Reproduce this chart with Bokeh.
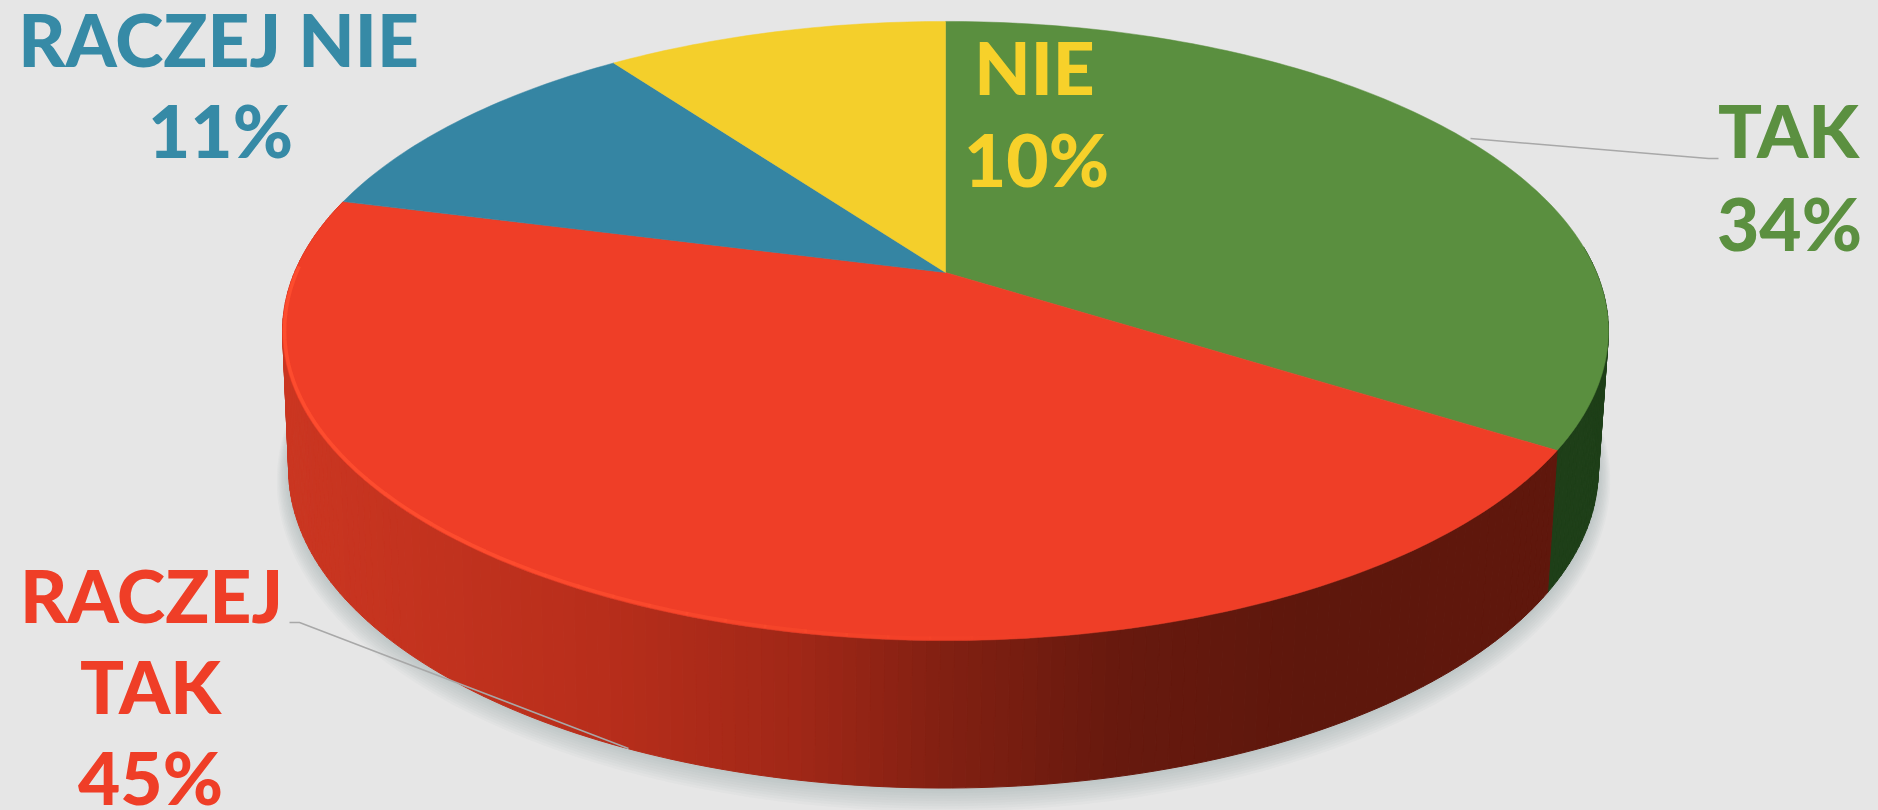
import math
from bokeh.plotting import figure
from bokeh.models import Range1d
from bokeh.core.properties import value
from bokeh.embed import file_html
from bokeh.resources import INLINE

# ---- data (clockwise from 12 o'clock) ----
categories = ["TAK", "RACZEJ TAK", "RACZEJ NIE", "NIE"]
shares = [34, 45, 11, 10]
label_lines = [["TAK"], ["RACZEJ", "TAK"], ["RACZEJ NIE"], ["NIE"]]

# ---- styles ----
BG = "#e6e6e6"
TOP_COL = ["#5a8f3f", "#ef3e27", "#3585a3", "#f4cf2b"]
TXT_COL = ["#5b9040", "#ef3e27", "#368aa6", "#f7d12a"]
GREEN_WALL = "#1e3f18"
# wall colour stops: page x -> colour
RED_STOPS = [(285, (0xcb, 0x36, 0x21)), (600, (0xb8, 0x2e, 0x1b)), (800, (0xa0, 0x27, 0x17)),
             (939, (0x82, 0x20, 0x12)), (1119, (0x67, 0x19, 0x0e)), (1300, (0x5e, 0x17, 0x0c)),
             (1560, (0x5f, 0x17, 0x0c))]

# perspective projection of the pie's circle onto the page
TILT = 0.189
def project(theta, cx, cy, bx, ay, grow=0.0):
    sx, sy = math.sin(theta), math.cos(theta)
    d = 1 + TILT * sy
    return cx + (bx + grow) * sx / d, cy - (ay + grow) * sy / d

def top_pt(t, grow=0.0):
    return project(t, 945, 272, 651, 298.5, grow)

def base_pt(t, grow=0.0, dy=0.0):
    x, y = project(t, 943, 409, 643, 307, grow)
    return x, y + dy

def wall_colour(x):
    if x <= RED_STOPS[0][0]:
        c = RED_STOPS[0][1]
    elif x >= RED_STOPS[-1][0]:
        c = RED_STOPS[-1][1]
    else:
        for (x0, c0), (x1, c1) in zip(RED_STOPS, RED_STOPS[1:]):
            if x0 <= x <= x1:
                f = (x - x0) / (x1 - x0)
                c = tuple(round(a + (b - a) * f) for a, b in zip(c0, c1))
                break
    return "#%02x%02x%02x" % c

W, H = 1878, 810
p = figure(width=W, height=H, x_range=Range1d(0, W), y_range=Range1d(H, 0),
           output_backend="svg", toolbar_location=None, min_border=0,
           background_fill_color=BG, border_fill_color=BG, outline_line_color=None)
p.axis.visible = False
p.grid.visible = False

# cumulative slice angles
edges = [0.0]
for s in shares:
    edges.append(edges[-1] + s / sum(shares) * 2 * math.pi)

# soft shadow under the disc
for i in range(9, 0, -1):
    pts = [base_pt(math.radians(a), grow=i * 1.3, dy=i * 1.0) for a in range(0, 360, 2)]
    p.patch([q[0] for q in pts], [q[1] for q in pts], fill_color="#8f959c",
            fill_alpha=0.05, line_color=None)

# side wall: strips between consecutive angles
def wall(a0, a1, colour_of):
    xs, ys, cols = [], [], []
    n = max(2, int(math.degrees(a1 - a0) / 1.0))
    for k in range(n):
        t0 = a0 + (a1 - a0) * k / n
        t1 = a0 + (a1 - a0) * (k + 1) / n
        quad = [top_pt(t0), top_pt(t1), base_pt(t1), base_pt(t0)]
        xs.append([q[0] for q in quad])
        ys.append([q[1] for q in quad])
        cols.append(colour_of(sum(q[0] for q in quad) / 4))
    p.patches(xs, ys, fill_color=cols, line_color=cols, line_width=1)

wall(math.radians(85), edges[1], lambda x: GREEN_WALL)
wall(edges[1], edges[2], wall_colour)

# top surface
for i in range(len(shares)):
    n = max(4, int(math.degrees(edges[i + 1] - edges[i])))
    rim = [top_pt(edges[i] + (edges[i + 1] - edges[i]) * k / n) for k in range(n + 1)]
    xs = [945] + [q[0] for q in rim]
    ys = [272] + [q[1] for q in rim]
    p.patch(xs, ys, fill_color=TOP_COL[i], line_color=TOP_COL[i], line_width=0.5)

# lit edge along the near rim of the red slice, fading out to the right
for a in range(172, 270, 3):
    seg = [top_pt(math.radians(a + k), grow=-2.0) for k in (0, 1.5, 3.2)]
    p.line([q[0] for q in seg], [q[1] for q in seg], line_color="#fd4c2e",
           line_width=3.5, line_alpha=min(1.0, (a - 170) / 45))

# leader lines
p.line([1470, 1708, 1718], [138, 158, 158], line_color="#a8a8a8", line_width=1.5)
p.line([289, 299, 628], [622, 622, 748], line_color="#a8a8a8", line_width=1.5)

# labels: one (x, baseline) per text line
BASELINE_SHIFT = -29
label_anchor = {
    0: [(1788, 158), (1789, 251)],
    1: [(151, 623), (150, 714), (150, 805)],
    2: [(218, 67), (220, 158)],
    3: [(1034, 95), (1036, 187)],
}
for i, lines in enumerate(label_lines):
    texts = lines + [f"{shares[i]}%"]
    for t, (x, y) in zip(texts, label_anchor[i]):
        p.text([x], [y + BASELINE_SHIFT], text=[t], text_color=TXT_COL[i],
               text_font=value("Lato Black"),
               text_font_style="normal", text_font_size=value("73px"),
               text_align="center", text_baseline="alphabetic")

html = file_html(p, INLINE)
html = html.replace("<head>", f"<head><style>html,body{{margin:0;background:{BG};overflow:hidden}}</style>", 1)
open("out.html", "w").write(html)
